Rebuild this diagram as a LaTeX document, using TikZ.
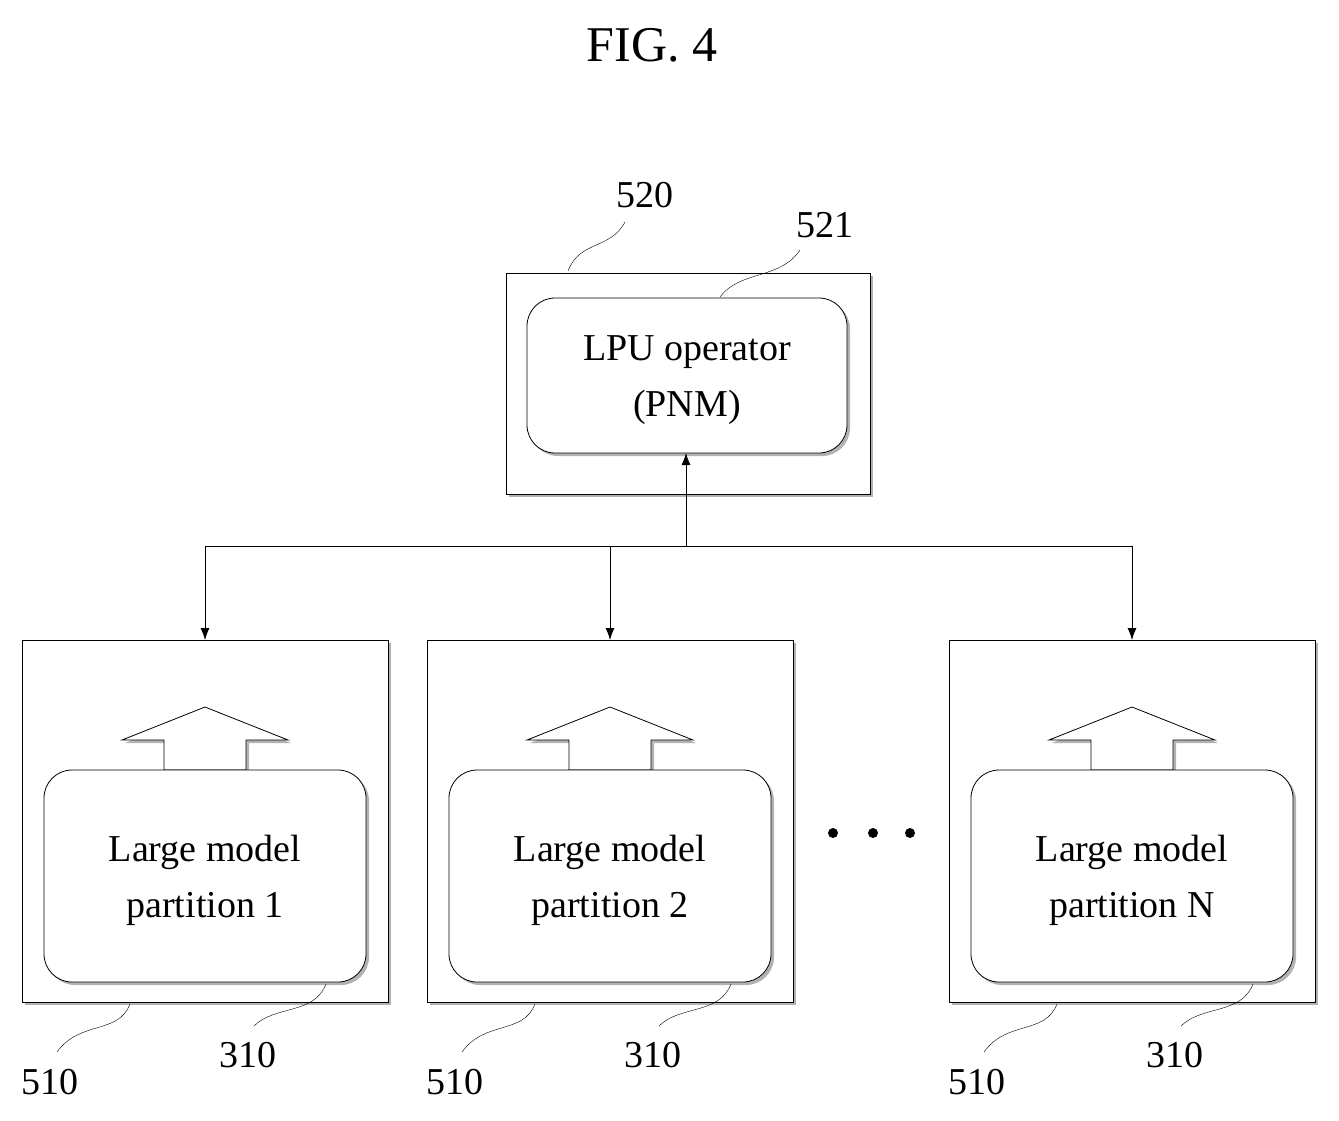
\documentclass[tikz,border=0pt]{standalone}
\usepackage{fontspec}
\setmainfont{Liberation Serif}
\usetikzlibrary{shadows,arrows.meta}
\tikzset{every node/.style={inner sep=0pt}}

\begin{document}
\begin{tikzpicture}[x=1pt,y=-1pt]

\tikzstyle{box}=[draw,thick,fill=white,drop shadow={shadow xshift=3pt,shadow yshift=-3pt,fill=gray!60,opacity=1}]
\tikzstyle{rbox}=[box,rounded corners=28pt]
\tikzstyle{txt}=[font=\fontsize{38}{56}\selectfont,align=center]
\tikzstyle{num}=[font=\fontsize{38}{40}\selectfont]
\tikzstyle{lead}=[thin]
\tikzstyle{a}=[thick,-{Latex[length=12pt,width=9pt]}]

\useasboundingbox (0,0) rectangle (1339,1120);
\node[font=\fontsize{50}{52}\selectfont] (fig) at (652,45) {FIG. 4};

% 520 / 521
\draw[box] (506,273) rectangle (870,494);
\draw[rbox] (527,298) rectangle (847,453);
\node[txt] (lpu) at (687,380) {LPU operator\\(PNM)};
\coordinate (lpub) at (686,453);
\node[num] (n520) at (645,195) {520};
\node[num] (n521) at (825,225) {521};
\draw[lead] (568,271) .. controls (580,240) and (610,250) .. (625,222);
\draw[lead] (720,297) .. controls (740,270) and (780,280) .. (800,250);

\coordinate (bus) at (686,546);
\draw[a] (bus) -- (lpub);

% partitions
\foreach \dx/\n/\nm in {0/1/1,405/2/2,927/3/N}{
  \begin{scope}[xshift=\dx]
    \draw[box] (22,640) rectangle (388,1002);
    \draw[box] (205,707) -- (288,740) -- (246,740) -- (246,770) -- (164,770) -- (164,740) -- (122,740) -- cycle;
    \draw[rbox] (44,770) rectangle (366,982);
    \node[txt] (p\n) at (205,880) {Large model\\partition \nm};
    \coordinate (top\n) at (205,640);
    \node[num] (a\n) at (50,1082) {510};
    \node[num] (b\n) at (248,1055) {310};
    \draw[lead] (130,1004) .. controls (118,1035) and (80,1020) .. (57,1052);
    \draw[lead] (326,984) .. controls (314,1015) and (275,1005) .. (254,1026);
  \end{scope}
}
\draw[thick] (top1|-bus) -- (top3|-bus);
\foreach \n in {1,2,3}
  \draw[a] (top\n|-bus) -- (top\n);

% dots
\foreach \x in {833,873,910}
  \fill (\x,833) circle (5pt);

\end{tikzpicture}
\end{document}
